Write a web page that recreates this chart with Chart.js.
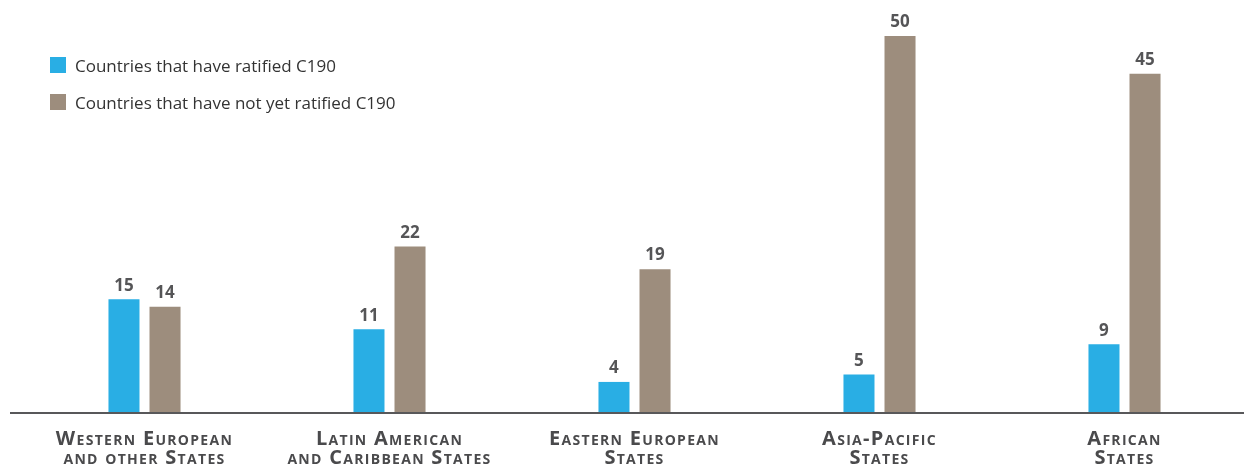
<!DOCTYPE html>
<html>
<head>
<meta charset="utf-8">
<script src="https://cdn.jsdelivr.net/npm/chart.js@4.4.0/dist/chart.umd.min.js"></script>
<style>
  body { margin: 0; background: #fff; overflow: hidden; }
  #wrap { position: relative; width: 1250px; height: 466px; }
  #legend { position: absolute; left: 50px; top: 54px; font-family: "Open Sans", sans-serif; font-size: 17px; color: #333; }
  .item { display: flex; align-items: center; height: 22px; margin-bottom: 15px; }
  .box { width: 16px; height: 16px; margin-right: 9px; }
</style>
</head>
<body>
<div id="wrap">
  <canvas id="chartscreen"></canvas>
  <div id="legend"></div>
</div>
<script>
// chart data
const regions = [
  ["Western European", "and other States"],
  ["Latin American", "and Caribbean States"],
  ["Eastern European", "States"],
  ["Asia-Pacific", "States"],
  ["African", "States"]
];
const ratified = [15, 11, 4, 5, 9];
const notRatified = [14, 22, 19, 50, 45];
const seriesNames = ["Countries that have ratified C190", "Countries that have not yet ratified C190"];
const seriesColors = ["#29aee4", "#9d8d7d"];

// axis labels in small caps (chart.js font.style won't take small-caps, so draw them here)
const capsLabels = {
  id: "capsLabels",
  afterDraw(chart) {
    const ctx = chart.ctx;
    const xs = chart.scales.x;
    ctx.save();
    ctx.font = "small-caps bold 20px 'Open Sans'";
    ctx.letterSpacing = "1.3px";
    ctx.fillStyle = "#4a4a4c";
    ctx.textAlign = "center";
    ctx.textBaseline = "middle";
    chart.data.labels.forEach((lbl, i) => {
      const x = xs.getPixelForTick(i);
      lbl.forEach((line, k) => {
        ctx.fillText(line, x, xs.top + 27 + k * 19);
      });
    });
    ctx.restore();
  }
};

// draws numbers above each bar
const valueLabels = {
  id: "valueLabels",
  afterDatasetsDraw(chart) {
    const ctx = chart.ctx;
    ctx.save();
    ctx.font = "bold 17px 'Open Sans'";
    ctx.fillStyle = "#555557";
    ctx.textAlign = "center";
    ctx.textBaseline = "bottom";
    chart.data.datasets.forEach((ds, i) => {
      chart.getDatasetMeta(i).data.forEach((bar, j) => {
        ctx.fillText(ds.data[j], bar.x, bar.y - 5);
      });
    });
    ctx.restore();
  }
};

// baseline across the whole width
const baseLine = {
  id: "baseLine",
  afterDraw(chart) {
    const ctx = chart.ctx;
    const y = chart.scales.y.getPixelForValue(0);
    ctx.save();
    ctx.strokeStyle = "#58585a";
    ctx.lineWidth = 2;
    ctx.beginPath();
    ctx.moveTo(10, y + 1);
    ctx.lineTo(chart.width, y + 1);
    ctx.stroke();
    ctx.restore();
  }
};

new Chart(document.getElementById("chartscreen"), {
  type: "bar",
  data: {
    labels: regions,
    datasets: [{
      label: seriesNames[0],
      data: ratified,
      backgroundColor: seriesColors[0]
    }, {
      label: seriesNames[1],
      data: notRatified,
      backgroundColor: seriesColors[1]
    }]
  },
  options: {
    responsive: true,
    maintainAspectRatio: false,
    animation: false,
    categoryPercentage: 0.335,
    barPercentage: 0.756,
    layout: { padding: { left: 22, right: 3, top: 0, bottom: 0 } },
    plugins: { legend: { display: false }, tooltip: { enabled: false } },
    scales: {
      x: {
        grid: { display: false, drawTicks: false },
        border: { display: false },
        ticks: { display: false },
        afterFit(scale) { scale.height = 54; }
      },
      y: {
        display: false,
        min: 0,
        max: 54.8
      }
    }
  },
  plugins: [capsLabels, valueLabels, baseLine]
});

// html legend
const legend = document.getElementById("legend");
seriesNames.forEach((name, i) => {
  legend.innerHTML += '<div class="item"><div class="box" style="background:' + seriesColors[i] + '"></div>' + name + '</div>';
});
</script>
</body>
</html>
